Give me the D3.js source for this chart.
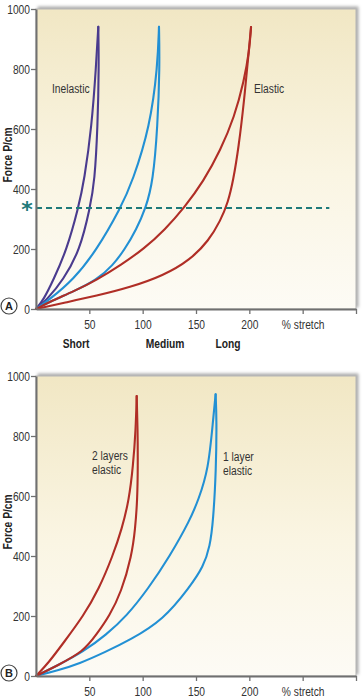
<!DOCTYPE html>
<html>
<head>
<meta charset="utf-8">
<script src="https://cdn.jsdelivr.net/npm/d3@7"></script>
<style>
  body { margin:0; background:#fff; }
  svg text { font-family: "Liberation Sans", Arial, sans-serif; fill:#333; }
</style>
</head>
<body>
<div class="viz"></div>
<script>
const width = 363;
const height = 699;
const margin = {left:36, right:7};
const narrow = 0.82; // squeeze text to look like the condensed face of the original

// panel A curves: [stretch %, force P/cm]
const inelasticLoad = [[0,0],[7,30],[16.3,97],[28.8,197],[39.7,337],[45.3,430],[52.2,608],[56.3,808],[58.4,941]];
const inelasticUnload = [[0,0],[10,30],[25.6,97],[41.3,197],[50.6,337],[55,425],[57.8,608],[59,808],[58.4,941]];
const mediumLoad = [[0,0],[12,30],[35,97],[57,197],[79.4,337],[90.5,425],[106.9,608],[114,808],[115.3,941]];
const mediumUnload = [[0,0],[15,28],[35,58],[57,97],[72,145],[83.4,200],[94,265],[103,337],[109.7,425],[114,608],[116,808],[115.3,941]];
const elasticLoad = [[0,0],[15,28],[35,58],[57,97],[80,148],[101,200],[121,265],[138.8,337],[157,425],[173,530],[186,640],[195,760],[200,860],[201.6,940]];
const elasticUnload = [[0,0],[25.6,20],[56.9,44],[88.1,72],[119.4,111],[144.4,163],[162,228],[173,295],[180,355],[185,430],[190,540],[195,690],[199.5,860],[201.6,940]];

// panel B curves
const twoLayerLoad = [[0,0],[12,45],[25.6,110],[44.4,200],[59,290],[71.9,400],[80.5,490],[87.2,587],[91,700],[93.5,820],[94.4,933]];
const twoLayerUnload = [[0,0],[20,35],[44.4,81],[57,140],[68.8,200],[80,280],[89.7,400],[93,490],[95,587],[95.5,700],[95.3,820],[94.4,933]];
const oneLayerLoad = [[0,0],[20,35],[44.4,81],[66,138],[85,200],[105,290],[125.6,400],[144.4,520],[152.2,587],[161.6,687],[166,853],[168.4,939]];
const oneLayerUnload = [[0,0],[20,18],[41.3,42],[65,80],[88.1,120],[119.4,187],[144.4,298],[156.8,364],[163.1,431],[166.2,520],[168.8,687],[169.4,853],[168.4,939]];

const starForce = 337;
const starEnd = 275;
const yTicks = [0,200,400,600,800,1000];
const xTicks = [50,100,150,200,250,300];
const lengthNames = ['Short','Medium','Long'];
const lengthAt = [37.5,121,180];

const colours = {inelastic:'#4a3b8e', medium:'#2290d4', elastic:'#b02e26', star:'#1e7a7a'};

const panels = [
  {name:'A', top:9, bottom:309,
   series:[
     {pts:inelasticLoad, c:colours.inelastic},{pts:inelasticUnload, c:colours.inelastic},
     {pts:mediumLoad, c:colours.medium},{pts:mediumUnload, c:colours.medium},
     {pts:elasticLoad, c:colours.elastic},{pts:elasticUnload, c:colours.elastic}],
   labels:[{t:['Inelastic'], x:52, y:93},{t:['Elastic'], x:254, y:93}]},
  {name:'B', top:376, bottom:676,
   series:[
     {pts:oneLayerLoad, c:colours.medium},{pts:oneLayerUnload, c:colours.medium},
     {pts:twoLayerLoad, c:colours.elastic},{pts:twoLayerUnload, c:colours.elastic}],
   labels:[{t:['2 layers','elastic'], x:92, y:460},{t:['1 layer','elastic'], x:223, y:461}]}
];

const svg = d3.select('.viz').append('svg')
  .attr('width', width).attr('height', height);

const defs = svg.append('defs');
const grad = defs.append('linearGradient').attr('id','bg').attr('x1',0).attr('y1',0).attr('x2',0).attr('y2',1);
grad.append('stop').attr('offset','0%').attr('stop-color','#f1e7c4');
grad.append('stop').attr('offset','55%').attr('stop-color','#faf5e3');
grad.append('stop').attr('offset','100%').attr('stop-color','#fdfbf5');
defs.append('filter').attr('id','shadow').attr('x','-5%').attr('y','-5%').attr('width','110%').attr('height','110%')
  .append('feDropShadow').attr('dx',2).attr('dy',-2).attr('stdDeviation',1.5)
  .attr('flood-color','#888').attr('flood-opacity',0.7);

const x = d3.scaleLinear().domain([0,300]).range([margin.left, width-margin.right]);

function label(parent, tx, ty, lines, size, bold, anchor){
  const t = parent.append('text')
    .attr('transform',`translate(${tx},${ty}) scale(${narrow},1)`)
    .attr('text-anchor', anchor || 'start')
    .style('font-size', size+'px')
    .style('font-weight', bold ? 'bold' : 'normal')
    .style('fill', bold ? '#222' : '#333');
  lines.forEach((s,i)=>{
    t.append('tspan').attr('x',0).attr('dy', i===0 ? 0 : 14).text(s);
  });
  return t;
}

function drawPanel(p){
  const y = d3.scaleLinear().domain([0,1000]).range([p.bottom, p.top]);
  const g = svg.append('g').attr('class','panel-'+p.name);

  g.append('rect')
    .attr('x', x(0)).attr('y', y(1000))
    .attr('width', x(300)-x(0)).attr('height', y(0)-y(1000))
    .attr('fill','url(#bg)').attr('stroke','#b5b5b5').attr('stroke-width',1)
    .attr('filter','url(#shadow)');

  const line = d3.line()
    .x(d=>x(d[0])).y(d=>y(d[1]))
    .curve(d3.curveBasis);

  g.selectAll('path.curve')
    .data(p.series)
    .enter()
    .append('path')
      .attr('class','curve')
      .attr('d', d=>line(d.pts))
      .attr('fill','none')
      .attr('stroke', d=>d.c)
      .attr('stroke-width',2.1)
      .attr('stroke-linecap','round');

  if(p.name==='A'){
    g.append('line')
      .attr('x1', x(0)).attr('x2', x(starEnd))
      .attr('y1', y(starForce)).attr('y2', y(starForce))
      .attr('stroke', colours.star).attr('stroke-width',2)
      .attr('stroke-dasharray','6,4');
    g.append('text')
      .attr('x', 27).attr('y', y(starForce)+9)
      .attr('text-anchor','middle')
      .style('font-family','"DejaVu Sans", sans-serif')
      .style('font-size','22px').style('font-weight','bold')
      .style('fill', colours.star)
      .text('*');
    lengthNames.forEach((n,i)=>label(g, x(lengthAt[i]), 348, [n], 12.5, true, 'middle'));
  }

  // axes
  const yAxis = g.append('g')
    .attr('transform',`translate(${x(0)},0)`)
    .call(d3.axisLeft(y).tickValues(yTicks).tickSize(5).tickPadding(1).tickSizeOuter(0)
      .tickFormat(d3.format('d')));
  const xAxis = g.append('g')
    .attr('transform',`translate(0,${y(0)})`)
    .call(d3.axisBottom(x).tickValues(xTicks).tickSize(5).tickPadding(6).tickSizeOuter(0)
      .tickFormat(d=>d===250 ? '% stretch' : d===300 ? '' : d));
  [yAxis, xAxis].forEach(a=>{
    a.select('.domain').attr('stroke','#707070').attr('stroke-width',2);
    a.selectAll('.tick line').attr('stroke','#707070').attr('stroke-width',1.3);
    a.selectAll('.tick text')
      .style('font-family','"Liberation Sans", Arial, sans-serif')
      .style('font-size','12.5px').attr('fill','#333');
  });
  // condense tick labels around their anchor point
  yAxis.selectAll('.tick text')
    .attr('transform',`translate(-6,0) scale(${narrow},1)`).attr('x',0);
  xAxis.selectAll('.tick text')
    .attr('transform',`scale(${narrow},1)`);

  g.append('text')
    .attr('transform',`translate(12,${(p.top+p.bottom)/2 - 4}) rotate(-90) scale(${narrow},1)`)
    .attr('text-anchor','middle')
    .style('font-size','12.5px').style('font-weight','bold').style('fill','#222')
    .text('Force P/cm');

  p.labels.forEach(l=>label(g, l.x, l.y, l.t, 12.5, false));

  // panel letter
  g.append('circle')
    .attr('cx', 9).attr('cy', y(0)-3).attr('r', 8)
    .attr('fill','#fff').attr('stroke','#444').attr('stroke-width',1.2);
  g.append('text')
    .attr('x', 9).attr('y', y(0)+1)
    .attr('text-anchor','middle')
    .style('font-size','11px').style('font-weight','bold').style('fill','#222')
    .text(p.name);
}

panels.forEach(drawPanel);
</script>
</body>
</html>
